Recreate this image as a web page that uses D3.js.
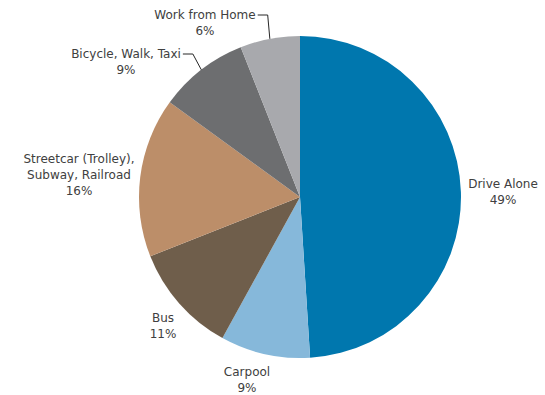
<!DOCTYPE html>
<html>
<head>
<meta charset="utf-8">
<script src="https://cdn.jsdelivr.net/npm/d3@7"></script>
<style>
  html, body { margin: 0; padding: 0; background: #fff; }
  svg { display: block; }
  text { font-family: "DejaVu Sans", sans-serif; font-size: 12px; fill: #404040; }
</style>
</head>
<body>
<svg id="chart" width="545" height="395"></svg>
<script>
// Commute mode share
const categories = ["Drive Alone", "Carpool", "Bus", "Streetcar (Trolley), Subway, Railroad", "Bicycle, Walk, Taxi", "Work from Home"];
const values = [49, 9, 11, 16, 9, 6];
const labelLines = [
  ["Drive Alone", "49%"],
  ["Carpool", "9%"],
  ["Bus", "11%"],
  ["Streetcar (Trolley),", "Subway, Railroad", "16%"],
  ["Bicycle, Walk, Taxi", "9%"],
  ["Work from Home", "6%"]
];
const colors = ["#0077AE", "#86B8DA", "#6F5E4B", "#BC8E69", "#6D6E70", "#A8A9AD"];

// Layout: label anchor points (center of the first line's baseline) and leader flags
const labelAnchors = [[503, 188], [247, 376], [163, 322], [79, 163], [126, 58], [205, 19]];
const hasLeader = [false, false, false, false, true, true];
const lineGap = 16;

const svg = d3.select("#chart");
const cx = 300, cy = 197, r = 161;

const pie = d3.pie().sort(null).value(d => d)(values);
const arc = d3.arc().innerRadius(0).outerRadius(r);

const g = svg.append("g").attr("transform", `translate(${cx},${cy})`);
g.selectAll("path.slice")
  .data(pie)
  .join("path")
  .attr("class", "slice")
  .attr("d", arc)
  .attr("fill", (d, i) => colors[i]);

// Labels
const labels = svg.append("g");
pie.forEach((d, i) => {
  const [lx, ly] = labelAnchors[i];
  const t = labels.append("text")
    .attr("text-anchor", "middle")
    .attr("x", lx).attr("y", ly);
  labelLines[i].forEach((s, k) => {
    t.append("tspan").attr("x", lx).attr("y", ly + k * lineGap).text(s);
  });
  if (hasLeader[i]) {
    const w = t.select("tspan").node().getComputedTextLength();
    const mid = (d.startAngle + d.endAngle) / 2;
    const ex = cx + r * Math.sin(mid), ey = cy - r * Math.cos(mid);
    const sx = lx + w / 2 + 2, sy = ly - 4;
    svg.append("path")
      .attr("d", `M${sx},${sy}H${sx + 10}L${ex},${ey}`)
      .attr("fill", "none")
      .attr("stroke", "#262626")
      .attr("stroke-width", 1);
  }
});
</script>
</body>
</html>
